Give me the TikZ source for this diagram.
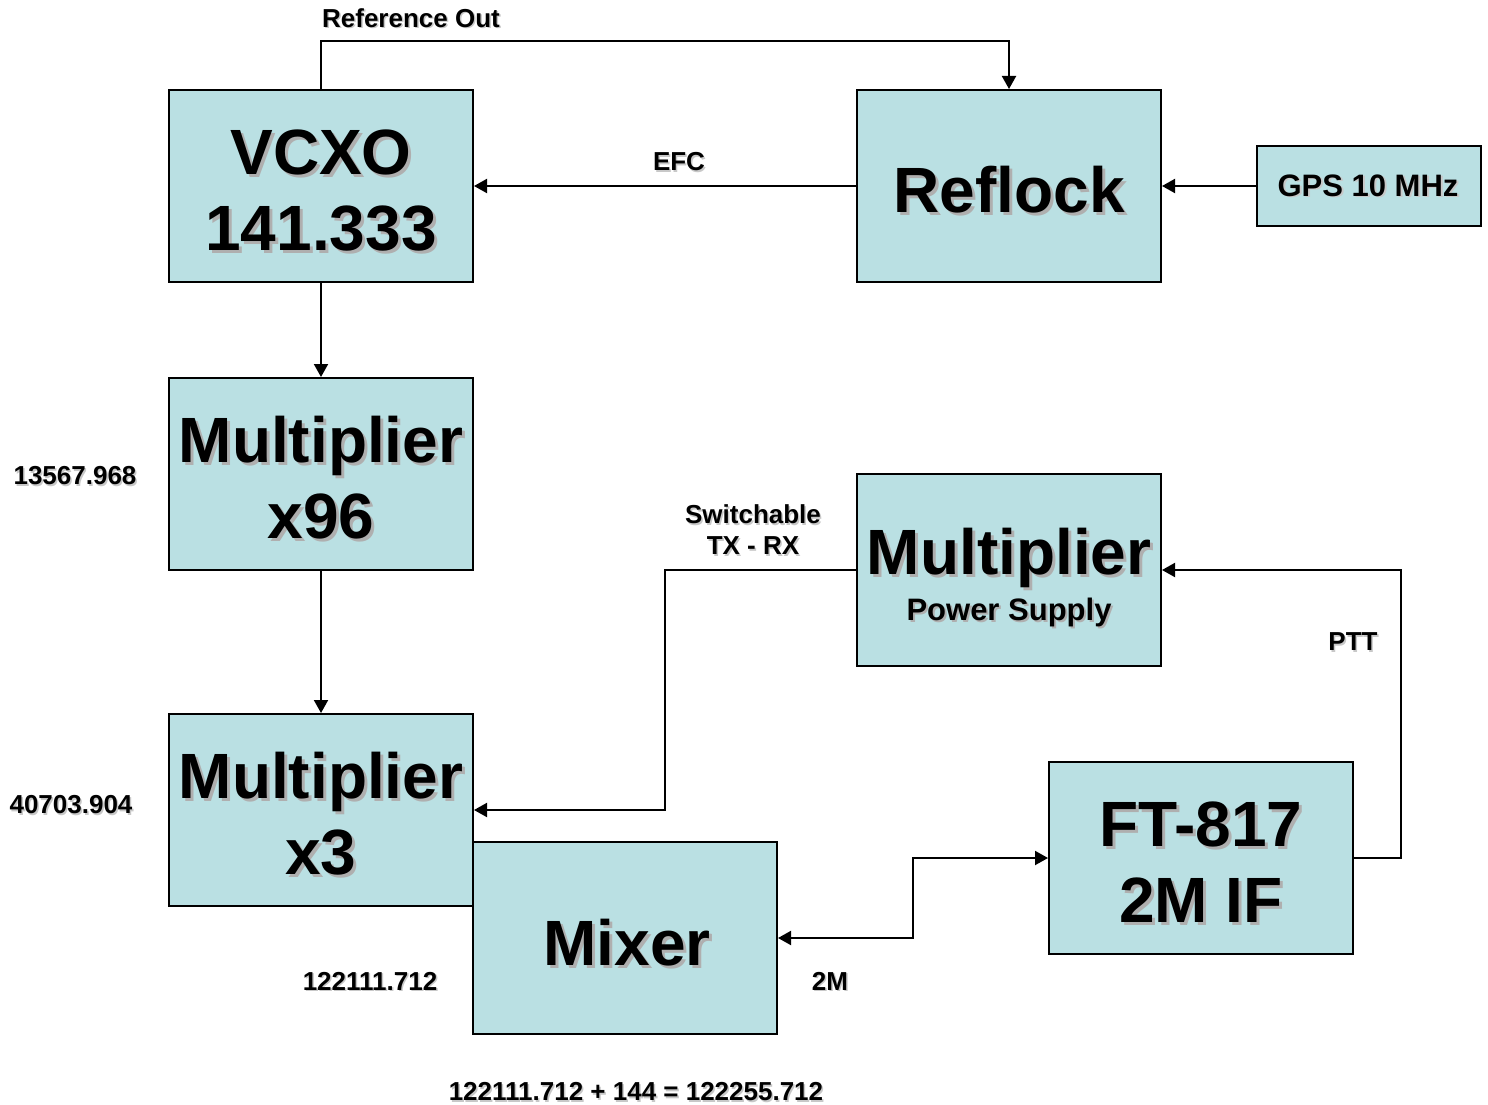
\documentclass[tikz,border=0pt]{standalone}
\usepackage{fontspec}
\setmainfont{Liberation Sans}
\usetikzlibrary{arrows.meta,calc}
\definecolor{boxfill}{HTML}{BAE0E3}
\definecolor{shadowgray}{HTML}{AFAFAF}
\definecolor{lightshadow}{HTML}{C8C8C8}
\tikzset{
  blk/.style={draw=black,line width=2pt,fill=boxfill,inner sep=0pt},
  bigtxt/.style={font=\fontsize{64}{76}\selectfont\bfseries,align=center,inner sep=0pt},
  midtxt/.style={font=\fontsize{31}{36}\selectfont\bfseries,align=center,inner sep=0pt},
  lbl/.style={font=\fontsize{26}{31}\selectfont\bfseries,align=center,inner sep=0pt},
  conn/.style={line width=2pt,-{Triangle[length=13pt,width=14pt]}},
  dconn/.style={line width=2pt,{Triangle[length=13pt,width=14pt]}-{Triangle[length=13pt,width=14pt]}},
}
\newcommand\shadowtext[4]{% name, position, style, text
  \node[#3,text=shadowgray] (#1-s) at ($(#2)+(3,3)$) {#4};
  \node[#3,text=black] (#1) at (#2) {#4};
}
\newcommand\lbltext[3]{% name, position, text
  \node[lbl,text=lightshadow] (#1-s) at ($(#2)+(1.5,1.5)$) {#3};
  \node[lbl,text=black] (#1) at (#2) {#3};
}
\begin{document}
\begin{tikzpicture}[x=1pt,y=-1pt]
\useasboundingbox (0,0) rectangle (1488,1105);
% boxes
\node[blk,minimum width=304pt,minimum height=192pt] (vcxo) at (321,186) {};
\node[blk,minimum width=304pt,minimum height=192pt] (reflock) at (1009,186) {};
\node[blk,minimum width=224pt,minimum height=80pt] (gps) at (1369,186) {};
\node[blk,minimum width=304pt,minimum height=192pt] (m96) at (321,474) {};
\node[blk,minimum width=304pt,minimum height=192pt] (m3) at (321,810) {};
\node[blk,minimum width=304pt,minimum height=192pt] (mixer) at (625,938) {};
\node[blk,minimum width=304pt,minimum height=192pt] (mps) at (1009,570) {};
\node[blk,minimum width=304pt,minimum height=192pt] (ft) at (1201,858) {};
% box texts
\shadowtext{vcxot}{321,191}{bigtxt}{VCXO\\141.333}
\shadowtext{reflockt}{1009,190}{bigtxt}{Reflock}
\shadowtext{m96t}{321,478}{bigtxt}{Multiplier\\x96}
\shadowtext{m3t}{321,814}{bigtxt}{Multiplier\\x3}
\shadowtext{mixert}{627,943}{bigtxt}{Mixer}
\shadowtext{ftt}{1201,862}{bigtxt}{FT-817\\2M IF}
\node[bigtxt,text=shadowgray] (mpst1-s) at (1012,561) {Multiplier};
\node[bigtxt] (mpst1) at (1009,558) {Multiplier};
\node[midtxt,text=shadowgray] (mpst2-s) at (1011,614) {Power Supply};
\node[midtxt] (mpst2) at (1009,612) {Power Supply};
\node[midtxt,text=lightshadow] (gpst-s) at (1370,187) {GPS 10 MHz};
\node[midtxt] (gpst) at (1368,186) {GPS 10 MHz};
% connectors
\coordinate (refa) at (321,41);
\coordinate (refb) at (1009,41);
\draw[conn] (vcxo.north) -- (refa) -- (refb) -- (reflock.north);
\draw[conn] (reflock.west) -- (vcxo.east);
\draw[conn] (gps.west) -- (reflock.east);
\draw[conn] (vcxo.south) -- (m96.north);
\draw[conn] (m96.south) -- (m3.north);
\coordinate (swa) at (665,570);
\coordinate (swb) at (665,810);
\draw[conn] (mps.west) -- (swa) -- (swb) -- (m3.east);
\coordinate (ptta) at (1401,858);
\coordinate (pttb) at (1401,570);
\draw[conn] (ft.east) -- (ptta) -- (pttb) -- (mps.east);
\coordinate (mxa) at (913,938);
\coordinate (mxb) at (913,858);
\draw[dconn] (mixer.east) -- (mxa) -- (mxb) -- (ft.west);
% labels
\lbltext{reflbl}{411,18}{Reference Out}
\lbltext{efclbl}{679,162}{EFC}
\lbltext{swlbl}{753,530}{Switchable\\TX - RX}
\lbltext{pttlbl}{1353,642}{PTT}
\lbltext{f1lbl}{75,476}{13567.968}
\lbltext{f2lbl}{71,805}{40703.904}
\lbltext{f3lbl}{370,981}{122111.712}
\lbltext{twomlbl}{830,981}{2M}
\lbltext{sumlbl}{636,1092}{122111.712 + 144 = 122255.712}
\end{tikzpicture}
\end{document}
